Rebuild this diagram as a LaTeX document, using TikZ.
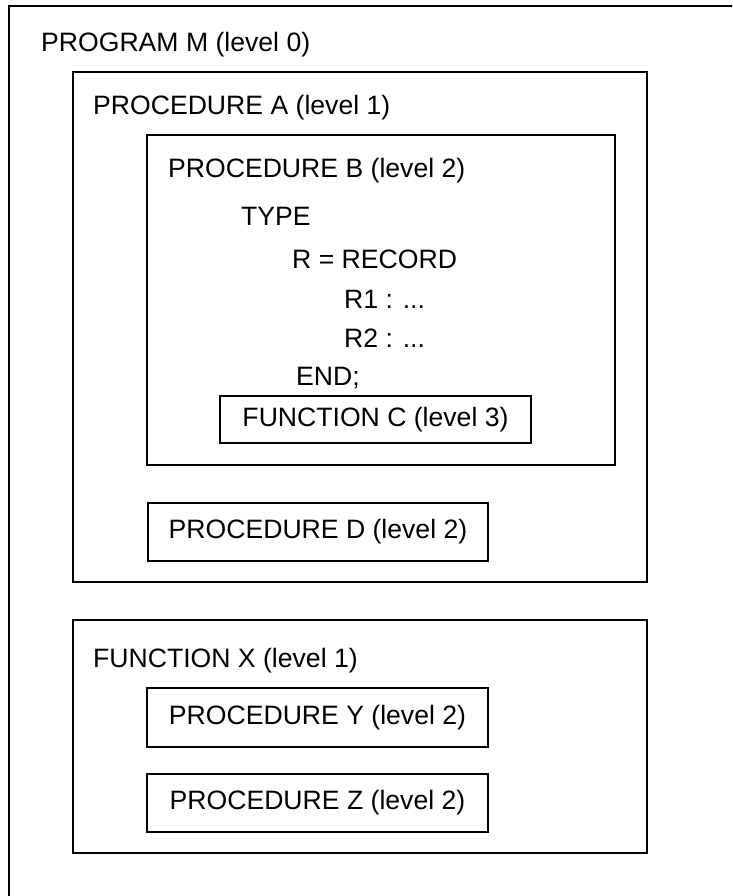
\documentclass[tikz,border=0pt]{standalone}
\usepackage{fontspec}
\setmainfont{Liberation Sans}
\begin{document}
\begin{tikzpicture}[x=1pt,y=-1pt,
  frame/.style={draw=black,line width=2.2pt},
  label/.style={anchor=base west,inner sep=0pt},
  unitbox/.style={frame,inner sep=0pt,anchor=center},
  every node/.style={font=\fontsize{26.6}{30}\selectfont}]
\useasboundingbox (0,0) rectangle (732,896);
\clip (0,0) rectangle (732,896);
\fill[white] (0,0) rectangle (732,896);

% program M: its right and bottom sides run past the page
\draw[frame] (9,6) rectangle (760,920);
\node[label] (tM) at (41,52) {PROGRAM M (level 0)};

% procedure A
\draw[frame] (73,72) rectangle (647,582);
\node[label] (tA) at (93,115) {PROCEDURE A (level 1)};

% procedure B with its type declaration
\draw[frame] (147,135) rectangle (615,465);
\node[label] (tB) at (168,178) {PROCEDURE B (level 2)};
\node[label] (type) at (241,225) {TYPE};
\node[label] (rec) at (292,268) {R = RECORD};
\node[label] (r1) at (344,308) {R1 : ...};
\node[label] (r2) at (344,347) {R2 : ...};
\node[label] (end) at (296,385) {END;};

\node[unitbox,minimum width=311pt,minimum height=47pt] (C) at (375.5,419.5) {FUNCTION C (level 3)};
\node[unitbox,minimum width=340pt,minimum height=58pt] (D) at (318,532) {PROCEDURE D (level 2)};

% function X
\draw[frame] (73,620) rectangle (647,853);
\node[label] (tX) at (93,667) {FUNCTION X (level 1)};
\node[unitbox,minimum width=341pt,minimum height=59pt] (Y) at (317.5,717.5) {PROCEDURE Y (level 2)};
\node[unitbox,minimum width=341pt,minimum height=58pt] (Z) at (317.5,803) {PROCEDURE Z (level 2)};
\end{tikzpicture}
\end{document}
